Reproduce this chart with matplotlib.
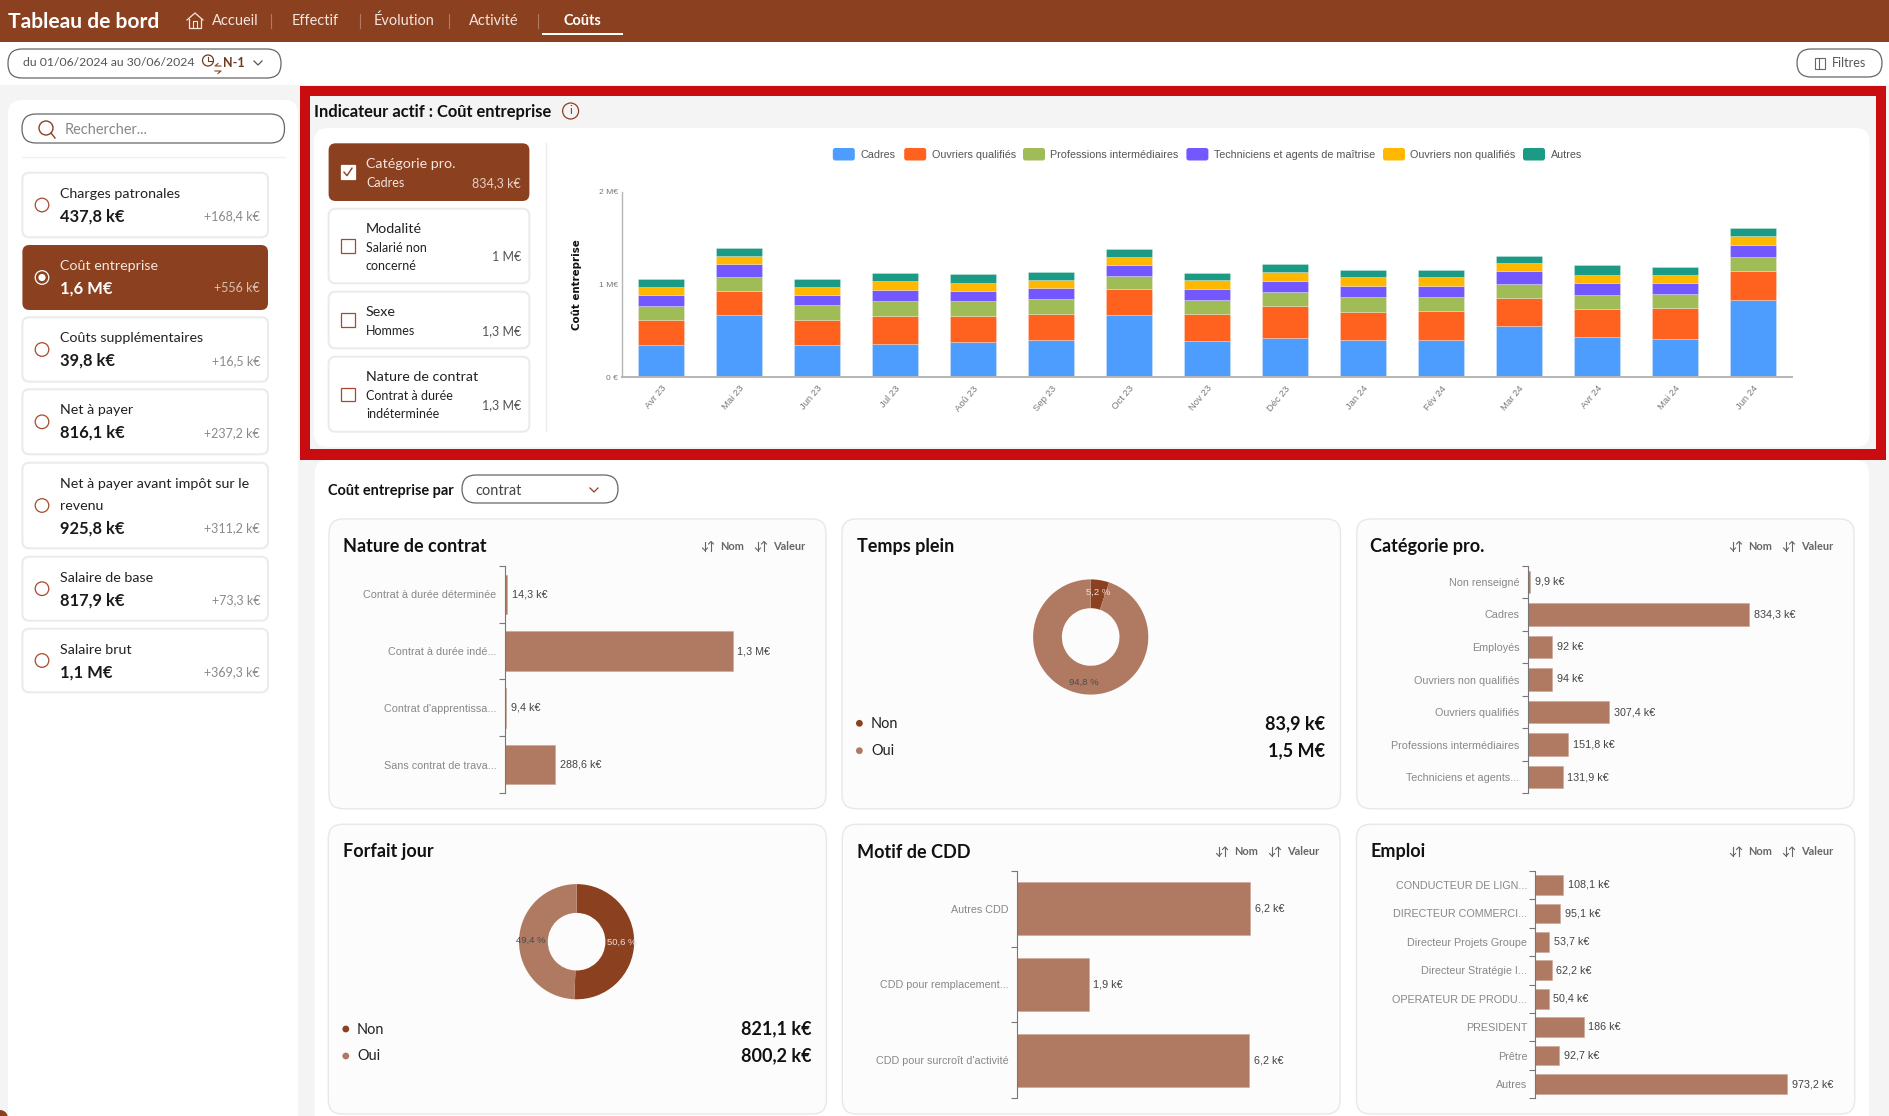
import matplotlib
matplotlib.use("Agg")
import matplotlib.pyplot as plt
from matplotlib.patches import FancyBboxPatch, Circle, Rectangle
import numpy as np

plt.rcParams['font.family'] = ['Lato', 'DejaVu Sans']

W, H = 1890, 1116

BROWN = '#8B4120'
LIGHT_BROWN = '#B07A62'
RED = '#C90C0F'
BORDER = '#EBEBEB'
CHART_FONT = ['Liberation Sans', 'DejaVu Sans']

# top chart data (k€)
months = ['Avr 23', 'Mai 23', 'Jun 23', 'Jul 23', 'Aoû 23', 'Sep 23', 'Oct 23', 'Nov 23',
          'Déc 23', 'Jan 24', 'Fév 24', 'Mar 24', 'Avr 24', 'Mai 24', 'Jun 24']
series_names = ['Cadres', 'Ouvriers qualifiés', 'Professions intermédiaires',
                'Techniciens et agents de maîtrise', 'Ouvriers non qualifiés', 'Autres']
series_colors = ['#4D9DFF', '#FF621F', '#A0BC57', '#7358FF', '#FFB700', '#1B9A85']
cadres = [350, 666, 349, 360, 378, 403, 666, 392, 425, 403, 403, 554, 432, 407, 834.3]
ouvriers_q = [266, 266, 270, 299, 281, 277, 281, 288, 342, 299, 310, 299, 306, 338, 307.4]
professions = [155, 151, 155, 158, 158, 166, 148, 155, 155, 158, 148, 151, 148, 148, 151.8]
techniciens = [112, 133, 112, 119, 112, 119, 115, 115, 115, 122, 122, 137, 133, 122, 131.9]
ouvriers_nq = [90, 90, 86, 101, 86, 86, 83, 94, 101, 94, 94, 86, 86, 90, 94]
autres = [86, 83, 83, 90, 97, 83, 86, 83, 86, 83, 83, 83, 108, 83, 94]

# side panel
indicator_titles = [['Charges patronales'], ['Coût entreprise'], ['Coûts supplémentaires'],
                    ['Net à payer'], ['Net à payer avant impôt sur le', 'revenu'],
                    ['Salaire de base'], ['Salaire brut']]
indicator_values = ['437,8 k€', '1,6 M€', '39,8 k€', '816,1 k€', '925,8 k€', '817,9 k€', '1,1 M€']
indicator_deltas = ['+168,4 k€', '+556 k€', '+16,5 k€', '+237,2 k€', '+311,2 k€', '+73,3 k€', '+369,3 k€']

# bar cards
contrat_labels = ['Contrat à durée déterminée', 'Contrat à durée indé...', "Contrat d'apprentissa...",
                  'Sans contrat de trava...']
contrat_values = [14.3, 1310, 9.4, 288.6]
contrat_texts = ['14,3 k€', '1,3 M€', '9,4 k€', '288,6 k€']

categorie_labels = ['Non renseigné', 'Cadres', 'Employés', 'Ouvriers non qualifiés', 'Ouvriers qualifiés',
                    'Professions intermédiaires', 'Techniciens et agents...']
categorie_values = [9.9, 834.3, 92, 94, 307.4, 151.8, 131.9]
categorie_texts = ['9,9 k€', '834,3 k€', '92 k€', '94 k€', '307,4 k€', '151,8 k€', '131,9 k€']

motif_labels = ['Autres CDD', 'CDD pour remplacement...', "CDD pour surcroît d'activité"]
motif_values = [6.21, 1.9, 6.17]
motif_texts = ['6,2 k€', '1,9 k€', '6,2 k€']

emploi_labels = ['CONDUCTEUR DE LIGN...', 'DIRECTEUR COMMERCI...', 'Directeur Projets Groupe',
                 'Directeur Stratégie I...', 'OPERATEUR DE PRODU...', 'PRESIDENT', 'Prêtre', 'Autres']
emploi_values = [108.1, 95.1, 53.7, 62.2, 50.4, 186, 92.7, 973.2]
emploi_texts = ['108,1 k€', '95,1 k€', '53,7 k€', '62,2 k€', '50,4 k€', '186 k€', '92,7 k€', '973,2 k€']

# donuts
temps_plein_values = [83.9, 1537]
temps_plein_texts = ['83,9 k€', '1,5 M€']
forfait_values = [821.1, 800.2]
forfait_texts = ['821,1 k€', '800,2 k€']
donut_labels = ['Non', 'Oui']


def fs(px):
    return px * 0.72


def axes_px(x0, y0, x1, y1):
    a = fig.add_axes([x0 / W, 1 - y1 / H, (x1 - x0) / W, (y1 - y0) / H])
    a.patch.set_alpha(0)
    return a


def box(x0, y0, x1, y1, r=6, fc='white', ec='none', lw=0.0, z=1):
    p = FancyBboxPatch((x0 + r, y0 + r), x1 - x0 - 2 * r, y1 - y0 - 2 * r,
                       boxstyle='round,pad=%f,rounding_size=%f' % (r, r),
                       fc=fc, ec=ec, lw=lw, zorder=z)
    bg.add_patch(p)


def txt(x, y, s, px=15, color='#1a1a1a', weight='normal', ha='left', z=5, **kw):
    return bg.text(x, y, s, fontsize=fs(px), color=color, weight=weight, ha=ha,
                   va='center', zorder=z, **kw)


def chevron(x, y, color='#555555', s=4):
    bg.plot([x - s, x, x + s], [y - s / 2, y + s / 2, y - s / 2], color=color, lw=0.9, zorder=5)


def sort_arrows(x, y, color='#666666'):
    # down arrow then up arrow, like the little sort icon
    bg.plot([x + 3, x + 3], [y - 4.5, y + 4.5], color=color, lw=0.8, zorder=5)
    bg.plot([x + 0.5, x + 3, x + 5.5], [y + 2, y + 4.5, y + 2], color=color, lw=0.8, zorder=5)
    bg.plot([x + 9, x + 9], [y - 4.5, y + 4.5], color=color, lw=0.8, zorder=5)
    bg.plot([x + 6.5, x + 9, x + 11.5], [y - 2, y - 4.5, y - 2], color=color, lw=0.8, zorder=5)


fig = plt.figure(figsize=(W / 100, H / 100), dpi=100, facecolor='white')
bg = fig.add_axes([0, 0, 1, 1])
bg.set_xlim(0, W)
bg.set_ylim(H, 0)
bg.axis('off')

# page background and header
bg.add_patch(Rectangle((0, 85), W, H - 85, fc='#F4F4F4', ec='none', zorder=0))
bg.add_patch(Rectangle((0, 0), W, 42, fc=BROWN, ec='none', zorder=1))
txt(8, 21.5, 'Tableau de bord', px=21, color='white', weight='bold')

# home icon
bg.plot([187, 195, 203], [20, 13, 20], color='#F3E6DF', lw=0.9, zorder=5)
bg.plot([189, 189, 201, 201], [18.5, 27.5, 27.5, 18.5], color='#F3E6DF', lw=0.9, zorder=5)
bg.plot([193, 193, 197, 197], [27.5, 21, 21, 27.5], color='#F3E6DF', lw=0.8, zorder=5)

for x, s in zip([212, 292, 374, 468.5], ['Accueil', 'Effectif', 'Évolution', 'Activité']):
    txt(x, 21, s, px=14.5, color='#F3E6DF')
txt(563.5, 21, 'Coûts', px=14.5, color='white', weight='bold')
for x in [270.6, 359.6, 448.6, 537.6]:
    bg.plot([x, x], [14, 28], color='#B07A62', lw=0.8, zorder=5)
bg.add_patch(Rectangle((542, 32.5), 81, 2.4, fc='white', ec='none', zorder=5))

# date pill
box(8, 49, 281, 78, r=14, ec='#666666', lw=0.9, z=3)
txt(23, 63, 'du 01/06/2024 au 30/06/2024', px=12.2, color='#555555')
bg.add_patch(Circle((208, 60.5), 5.5, fc='none', ec='#6E3A20', lw=0.9, zorder=5))
bg.plot([208, 208, 211.5], [57, 60.5, 60.5], color='#6E3A20', lw=0.8, zorder=5)
bg.plot([218, 215, 221], [63.5, 66, 66], color=BROWN, lw=0.8, zorder=5)
bg.plot([215, 221, 218], [71, 71, 73.5], color=BROWN, lw=0.8, zorder=5)
txt(222.5, 63, 'N-1', px=12.5, color='#6E3A20', weight='bold')
chevron(258, 63)

# filtres pill
box(1797, 49, 1882, 77, r=14, ec='#666666', lw=0.9, z=3)
bg.add_patch(Rectangle((1815, 58), 10, 11, fc='none', ec='#666666', lw=0.8, zorder=5))
bg.plot([1819, 1819], [58, 69], color='#666666', lw=0.8, zorder=5)
txt(1832, 63, 'Filtres', px=12.5, color='#555555')

# left panel
box(8, 100, 298, 1160, r=14, z=1)
box(22, 114, 284.5, 143, r=14, ec='#666666', lw=0.9, z=3)
bg.add_patch(Circle((46, 128), 7, fc='none', ec=BROWN, lw=1.0, zorder=5))
bg.plot([51, 55], [133, 138], color=BROWN, lw=1.0, zorder=5)
txt(65, 130, 'Rechercher...', px=14.5, color='#888888')
bg.plot([22, 285], [157, 157], color='#F0F0F0', lw=1, zorder=2)

card_tops = [172.7, 245, 317.3, 389.3, 462.7, 556.7, 628.7]
card_bottoms = [237.3, 310, 381.7, 454.3, 548.3, 620.7, 692.3]
for i in range(7):
    y0, y1 = card_tops[i], card_bottoms[i]
    active = i == 1
    if active:
        box(22.4, y0, 268, y1, r=7, fc=BROWN, z=2)
    else:
        box(22.4, y0, 268, y1, r=7, ec=BORDER, lw=1.5, z=2)
    main = 'white' if active else '#1a1a1a'
    ym = (y0 + y1) / 2
    ring = 'white' if active else '#A8482A'
    bg.add_patch(Circle((42, ym), 6.8, fc='none', ec=ring, lw=0.9, zorder=5))
    if active:
        bg.add_patch(Circle((42, ym), 3.6, fc='white', ec='none', zorder=5))
    lines = indicator_titles[i]
    for k, line in enumerate(lines):
        txt(60, y0 + 21 + 22 * k, line, px=14.3, color='#F3E6DF' if active else '#222222')
    yv = y0 + 43.5 + 22 * (len(lines) - 1)
    txt(60, yv, indicator_values[i], px=16.5, color=main, weight='bold')
    txt(260, yv, indicator_deltas[i], px=12.5, ha='right', color='#DDBFAF' if active else '#8A8A8A')

# red frame
bg.add_patch(Rectangle((300.4, 86), 1585.6, 374, fc=RED, ec='none', zorder=1))
bg.add_patch(Rectangle((310, 96), 1566, 353, fc='#F4F4F4', ec='none', zorder=2))
txt(314, 112, 'Indicateur actif : Coût entreprise', px=16.5, color='#111111', weight='bold')
bg.add_patch(Circle((570.6, 111), 8, fc='none', ec=BROWN, lw=0.9, zorder=5))
txt(570.6, 111, 'i', px=12, color=BROWN, ha='center')
box(314, 128, 1869.6, 447, r=14, z=3)

# option cards
opt_tops = [143.3, 208.7, 291.7, 356.7]
opt_bottoms = [201, 283.3, 348.3, 431.7]
opt_titles = ['Catégorie pro.', 'Modalité', 'Sexe', 'Nature de contrat']
opt_subs = [['Cadres'], ['Salarié non', 'concerné'], ['Hommes'], ['Contrat à durée', 'indéterminée']]
opt_values = ['834,3 k€', '1 M€', '1,3 M€', '1,3 M€']
for i in range(4):
    y0, y1 = opt_tops[i], opt_bottoms[i]
    active = i == 0
    if active:
        box(328.6, y0, 529.4, y1, r=7, fc=BROWN, z=4)
    else:
        box(328.6, y0, 529.4, y1, r=7, ec=BORDER, lw=1.5, z=4)
    ym = (y0 + y1) / 2
    bg.add_patch(Rectangle((341, ym - 6.7), 13.6, 13.4, fc='white' if active else 'none',
                           ec='white' if active else '#A8482A', lw=0.9, zorder=5))
    if active:
        bg.plot([344, 347, 352], [ym, ym + 3.5, ym - 4], color=BROWN, lw=1.0, zorder=6)
    c1 = '#F3E6DF' if active else '#222222'
    txt(366, y0 + 20.5, opt_titles[i], px=14.2, color=c1)
    for k, line in enumerate(opt_subs[i]):
        txt(366, y0 + 39.5 + 18 * k, line, px=12.5, color=c1)
    yv = y0 + 39.5 + 9 * (len(opt_subs[i]) - 1)
    txt(521, yv, opt_values[i], px=12.5, ha='right', color='#E6CFC3' if active else '#555555')
bg.plot([545.7, 545.7], [143, 431], color='#EDEDED', lw=1, zorder=4)

# stacked bars
ax = axes_px(622, 191.7, 1792, 377)
ax.set_zorder(3)
x = np.arange(len(months))
bottom = np.zeros(len(months))
stack = [cadres, ouvriers_q, professions, techniciens, ouvriers_nq, autres]
for vals, name, color in zip(stack, series_names, series_colors):
    ax.bar(x, vals, 0.6, bottom=bottom, color=color, edgecolor=(1, 1, 1, 0.35), linewidth=0.5, label=name)
    bottom = bottom + np.array(vals)
ax.set_xlim(-0.5, 14.5)
ax.set_ylim(0, 2000)
ax.set_yticks([0, 1000, 2000], ['0 €', '1 M€', '2 M€'], fontsize=fs(8.5), color='#777777', family=CHART_FONT)
ax.set_xticks(x, months, fontsize=fs(9.5), color='#777777', family=CHART_FONT, rotation=50,
              ha='right', rotation_mode='anchor')
ax.tick_params(length=0, pad=5)
ax.tick_params(axis='y', pad=3)
for s in ['top', 'right']:
    ax.spines[s].set_visible(False)
ax.spines['left'].set_color('#B5B5B5')
ax.spines['bottom'].set_color('#B5B5B5')
ax.spines['left'].set_linewidth(1.0)
ax.spines['bottom'].set_linewidth(1.4)
txt(577, 285, 'Coût entreprise', px=10.2, color='#111111', weight='bold', ha='center',
    rotation=90, family='DejaVu Sans')

# legend
swatch_x = [832.8, 904.2, 1023, 1186.4, 1383, 1523]
for sx, name, color in zip(swatch_x, series_names, series_colors):
    box(sx, 148, sx + 22, 160.5, r=2.5, fc=color, z=5)
    bg.text(sx + 27.5, 154.5, name, fontsize=fs(10.8), color='#555555', va='center', family=CHART_FONT, zorder=5)

# lower panel
box(314.5, 460, 1869, 1170, r=14, z=1)
txt(328, 491, 'Coût entreprise par', px=14.5, color='#111111', weight='bold')
box(462, 475, 618, 503, r=14, ec='#666666', lw=0.9, z=3)
txt(475, 491, 'contrat', px=14.5, color='#444444')
chevron(594, 490, color=BROWN)

cards = [(329, 519, 826, 808.7), (842, 519, 1340.5, 808.7), (1356.7, 519, 1854, 808.7),
         (328.3, 824.3, 826.4, 1114), (842.3, 824.3, 1340, 1114), (1356.5, 824.3, 1854.7, 1114)]
for c in cards:
    box(*c, r=14, fc='#FCFCFC', ec='#E8E8E8', lw=1.0, z=2)
card_titles = ['Nature de contrat', 'Temps plein', 'Catégorie pro.', 'Forfait jour', 'Motif de CDD', 'Emploi']
title_xy = [(343, 546.5), (857, 546.5), (1370, 546.5), (343, 852), (857, 852), (1370.5, 852)]
for (tx, ty), s in zip(title_xy, card_titles):
    txt(tx, ty, s, px=18, color='#111111', weight='bold')

# sort buttons
for xn, xv, y in [(720, 773, 546), (1748, 1801, 546), (1234, 1287, 851.5), (1748, 1801, 851.5)]:
    for tx, s in [(xn, 'Nom'), (xv, 'Valeur')]:
        sort_arrows(tx - 18, y)
        txt(tx, y, s, px=11, color='#666666', weight='bold')


def hbars(x_axis, y0, y1, right, labels, values, texts, px_per_unit):
    a = axes_px(x_axis, y0, right, y1)
    a.set_zorder(3)
    n = len(values)
    pos = np.arange(n)
    bars = a.barh(pos, values, 0.69, color=LIGHT_BROWN, edgecolor='#C9A696', linewidth=0.4)
    a.bar_label(bars, labels=texts, padding=3.5, fontsize=fs(10.8), color='#444444', family=CHART_FONT)
    a.set_ylim(n - 0.5, -0.5)
    a.set_xlim(0, (right - x_axis) / px_per_unit)
    a.set_yticks(np.arange(n + 1) - 0.5, [''] * (n + 1))
    a.set_yticks(pos, labels, minor=True, fontsize=fs(10.8), color='#888888', family=CHART_FONT)
    a.tick_params(axis='y', which='major', length=4, width=0.8, color='#777777')
    a.tick_params(axis='y', which='minor', length=0, pad=6)
    a.set_xticks([])
    for s in ['top', 'right', 'bottom']:
        a.spines[s].set_visible(False)
    a.spines['left'].set_color('#777777')
    a.spines['left'].set_linewidth(0.8)
    return a


hbars(504.6, 565.7, 793.3, 815, contrat_labels, contrat_values, contrat_texts, 0.174)
hbars(1527.5, 565.7, 793.3, 1845, categorie_labels, categorie_values, categorie_texts, 0.2658)
hbars(1017.3, 870.7, 1098.3, 1325, motif_labels, motif_values, motif_texts, 37.5)
hbars(1535.5, 870.7, 1098.3, 1845, emploi_labels, emploi_values, emploi_texts, 0.2585)


def donut(cx, cy, values, texts, dot_x, label_x, value_x, y_rows):
    r = 57.6
    a = axes_px(cx - r, cy - r, cx + r, cy + r)
    a.set_zorder(3)
    wedges, _, auto = a.pie(values, colors=[BROWN, LIGHT_BROWN], startangle=90, counterclock=False,
                            radius=1, wedgeprops={'width': 0.5},
                            autopct=lambda p: ('%.1f %%' % p).replace('.', ','), pctdistance=0.79,
                            textprops={'fontsize': fs(9.5), 'family': CHART_FONT})
    auto[0].set_color('#F0DDD3')
    auto[1].set_color('#4A4A4A')
    a.set_xlim(-1, 1)
    a.set_ylim(-1, 1)
    for k in range(2):
        bg.add_patch(Circle((dot_x, y_rows[k]), 3.4, fc=[BROWN, LIGHT_BROWN][k], ec='none', zorder=5))
        txt(label_x, y_rows[k] + 0.5, donut_labels[k], px=14.5, color='#222222')
        txt(value_x, y_rows[k], texts[k], px=18, color='#111111', weight='bold', ha='right')


donut(1090.7, 637, temps_plein_values, temps_plein_texts, 859.4, 871, 1325.6, [723.3, 750.7])
donut(576.6, 941.7, forfait_values, forfait_texts, 345.8, 357, 811.7, [1029, 1056])

# corner dot bottom left
bg.add_patch(Circle((0, 1118), 8, fc=BROWN, ec='none', zorder=6))

fig.savefig('out.png', dpi=100)
